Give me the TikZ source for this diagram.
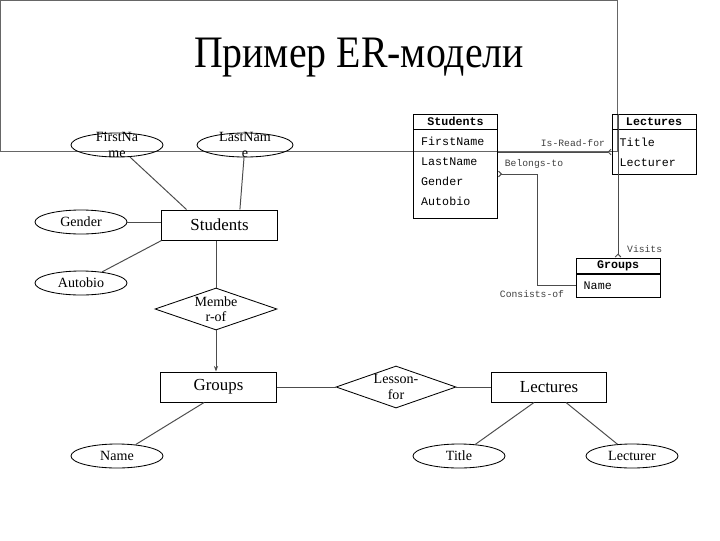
\documentclass[tikz,border=0pt]{standalone}
\usepackage{fontspec}
\usepackage{graphicx}
\setmainfont{Liberation Serif}
\setmonofont{Liberation Mono}
\usetikzlibrary{shapes.geometric,arrows.meta,positioning}

\begin{document}
\begin{tikzpicture}[x=0.025cm,y=-0.025cm,
  entity/.style={draw, line width=0.7pt, minimum width=2.875cm, minimum height=0.75cm, font=\fontsize{12}{14}\selectfont},
  attr/.style={draw, ellipse, line width=0.6pt, inner sep=0pt, minimum width=2.3cm, minimum height=0.6cm, font=\fontsize{10}{11}\selectfont},
  rel/.style={draw, diamond, line width=0.6pt, inner sep=0pt, minimum width=3.05cm, minimum height=1.05cm},
  intext/.style={align=center, inner sep=0pt, font=\fontsize{10}{11}\selectfont},
  link/.style={draw=black!70, line width=0.7pt},
  thead/.style={draw, line width=0.7pt, minimum width=2.1cm, minimum height=0.375cm, inner sep=0pt, font=\ttfamily\bfseries\fontsize{8.3}{10}\selectfont},
  tbody/.style={draw, line width=0.7pt, align=left, text width=1.713cm, inner xsep=5.5pt, inner ysep=0pt, font=\ttfamily\fontsize{8.3}{14.3}\selectfont},
  tlink/.style={draw=black!70, line width=0.7pt},
  crowend/.style={-{Straight Barb[reversed,length=2pt,width=4pt]}},
  crowstart/.style={{Straight Barb[reversed,length=2pt,width=4pt]}-},
  lbl/.style={font=\ttfamily\fontsize{6.9}{8}\selectfont, text=black!75}]
\useasboundingbox (0,0) rectangle (720,540);

% title frame of the slide
\draw[draw=black!60, line width=0.7pt] (0,0) rectangle (617,151);
\node[font=\fontsize{32}{38}\selectfont, anchor=base] (title) at (359,67) {\scalebox{0.885}[1]{Пример ER-модели}};

% ER diagram
\node[entity] (st) at (219.5,225) {Students};
\node[attr, label={[intext]center:FirstNa\\me}] (fn) at (117,145) {};
\node[attr, minimum width=2.4cm, label={[intext]center:LastNam\\e}] (ln) at (245,145) {};
\node[attr] (gd) at (81,222) {Gender};
\node[attr] (ab) at (81,283) {Autobio};
\node[rel, label={[intext]center:Membe\\r-of}] (mo) at (216,309) {};
\node[entity] (gr) at (218.5,387) {Groups};
\node[rel, minimum width=3cm, label={[intext]center:Lesson-\\for}] (lf) at (396,387) {};
\node[entity] (lt) at (549,387) {Lectures};
\node[attr] (nm) at (117,456) {Name};
\node[attr] (tt) at (459,456) {Title};
\node[attr] (lr) at (632,456) {Lecturer};

\draw[link] (fn) -- ([xshift=-0.825cm]st.north);
\draw[link] (ln) -- ([xshift=0.51cm]st.north);
\draw[link] (gd) -- (gd -| st.west);
\draw[link] (ab) -- (st.south west);
\draw[link] (st.south -| mo.north) -- (mo.north);
\draw[link, -{Stealth[length=4pt,width=3pt]}] (mo.south) -- (mo.south |- gr.north);
\draw[link] (gr) -- (lf);
\draw[link] (lf) -- (lt);
\draw[link] (nm) -- ([xshift=-0.36cm]gr.south);
\draw[link] (tt) -- ([xshift=-0.375cm]lt.south);
\draw[link] (lr) -- ([xshift=0.425cm]lt.south);

% tables
\node[thead] (sth) at (455.5,121.5) {Students};
\node[tbody, minimum height=2.2cm, text depth=46.5pt, below=0pt of sth] (stb) {FirstName\\LastName\\Gender\\Autobio};
\node[thead] (lth) at (654,121.5) {Lectures};
\node[tbody, minimum height=1.1cm, below=0pt of lth] (ltb) {Title\\Lecturer};
\node[thead] (grh) at (618,265.5) {Groups};
\node[tbody, minimum height=0.575cm, below=0pt of grh] (grb) {Name};

\draw[tlink, crowend] (ltb.west -| stb.east) -- node[lbl, above, pos=0.66] (irf) {Is-Read-for} (ltb.west);
\draw[tlink, crowend] (grh.north |- lth.north) -- (grh.north) node[lbl, above right, xshift=0.1cm] (vis) {Visits};
\draw[tlink, crowstart] (stb.east) -- ++(39,0) node[lbl, above, xshift=-0.075cm] (bto) {Belongs-to}
  |- node[lbl, below, pos=0.5, xshift=-0.125cm] (cof) {Consists-of} (grb.west);
\end{tikzpicture}
\end{document}
